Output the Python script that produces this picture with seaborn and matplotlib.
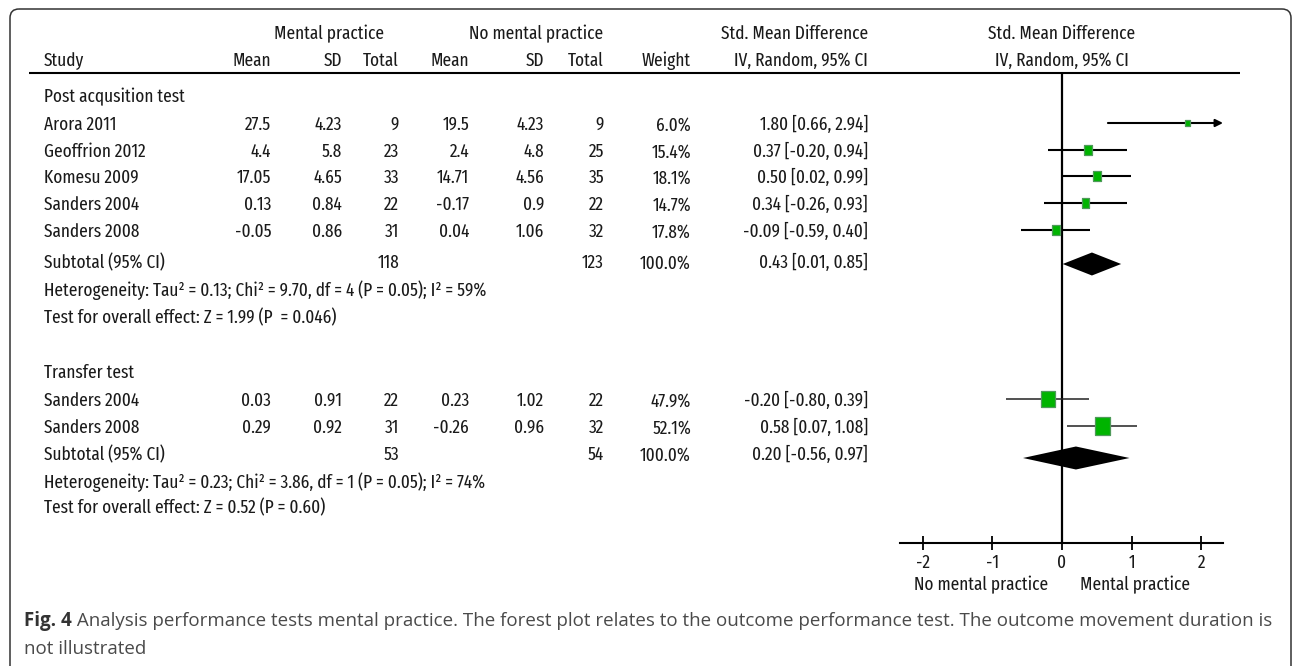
import numpy as np
import pandas as pd
import matplotlib
matplotlib.use("Agg")
import matplotlib.pyplot as plt
import seaborn as sns
from matplotlib.font_manager import FontProperties
from matplotlib.patches import FancyBboxPatch

# ---------------- data ----------------
studies_post = ["Arora 2011", "Geoffrion 2012", "Komesu 2009", "Sanders 2004", "Sanders 2008"]
mp_mean_post = [27.5, 4.4, 17.05, 0.13, -0.05]
mp_sd_post = [4.23, 5.8, 4.65, 0.84, 0.86]
mp_n_post = [9, 23, 33, 22, 31]
nmp_mean_post = [19.5, 2.4, 14.71, -0.17, 0.04]
nmp_sd_post = [4.23, 4.8, 4.56, 0.9, 1.06]
nmp_n_post = [9, 25, 35, 22, 32]
weight_post = [6.0, 15.4, 18.1, 14.7, 17.8]
smd_post = [1.80, 0.37, 0.50, 0.34, -0.09]
lo_post = [0.66, -0.20, 0.02, -0.26, -0.59]
hi_post = [2.94, 0.94, 0.99, 0.93, 0.40]
sub_post = [0.43, 0.01, 0.85]
tot_post = [118, 123]
het_post = "Heterogeneity: Tau² = 0.13; Chi² = 9.70, df = 4 (P = 0.05); I² = 59%"
eff_post = "Test for overall effect: Z = 1.99 (P  = 0.046)"

studies_tr = ["Sanders 2004", "Sanders 2008"]
mp_mean_tr = [0.03, 0.29]
mp_sd_tr = [0.91, 0.92]
mp_n_tr = [22, 31]
nmp_mean_tr = [0.23, -0.26]
nmp_sd_tr = [1.02, 0.96]
nmp_n_tr = [22, 32]
weight_tr = [47.9, 52.1]
smd_tr = [-0.20, 0.58]
lo_tr = [-0.80, 0.07]
hi_tr = [0.39, 1.08]
sub_tr = [0.20, -0.56, 0.97]
tot_tr = [53, 54]
het_tr = "Heterogeneity: Tau² = 0.23; Chi² = 3.86, df = 1 (P = 0.05); I² = 74%"
eff_tr = "Test for overall effect: Z = 0.52 (P = 0.60)"

group_titles = ["Post acqusition test", "Transfer test"]
x_ticks = [-2, -1, 0, 1, 2]
favours = ["No mental practice", "Mental practice"]
caption_bold = "Fig. 4"
caption_1 = " Analysis performance tests mental practice. The forest plot relates to the outcome performance test. The outcome movement duration is"
caption_2 = "not illustrated"

# ---------------- style / fonts ----------------
sns.set_theme(style="white")
plt.rcParams["axes.unicode_minus"] = False
TABLE_FAMILY = ["Fira Sans Extra Condensed", "Fira Sans Condensed", "Liberation Sans Narrow",
                "DejaVu Sans"]
CAP_FAMILY = ["Open Sans", "DejaVu Sans"]


def tfp(size):
    return FontProperties(family=TABLE_FAMILY, size=size, weight="normal")


W, H = 1292, 666
fig = plt.figure(figsize=(W / 100, H / 100), dpi=100)
fig.patch.set_facecolor("white")
ax = fig.add_axes([0, 0, 1, 1])
ax.set_xlim(0, W)
ax.set_ylim(H, 0)
ax.axis("off")
renderer = fig.canvas.get_renderer()


def text_width(s, fp):
    t = ax.text(0, 0, s, fontproperties=fp)
    w = t.get_window_extent(renderer).width
    t.remove()
    return w

# fit table font so that the heterogeneity line spans ~441 px
base = 12.0
fs = base * 441.0 / text_width(het_post, tfp(base))
FP = tfp(fs)
TXT = "#1a1a1a"

# ---------------- layout (pixels) ----------------
col_study = 44
col_right = {"mm": 271, "ms": 342, "mn": 399, "nm": 469, "ns": 544, "nn": 604, "w": 691, "ci": 868}
y_h1, y_h2, y_rule = 34, 61, 73
rows_post = [123, 150, 176, 203, 230]
y_title_post, y_sub_post, y_het_post, y_eff_post = 97, 263, 290, 318
rows_tr = [399, 426]
y_title_tr, y_sub_tr, y_het_tr, y_eff_tr = 373, 455, 482, 508
text_dy = 2
y_axis = 543
forest_px = (900, 1223)
zero_px, unit_px = 1062, 69.6


def put(x, y, s, ha="right", fp=None, color=TXT):
    ax.text(x, y, s, ha=ha, va="center", fontproperties=fp or FP, color=color)

# headers
put(329, y_h1, "Mental practice", ha="center")
put(536, y_h1, "No mental practice", ha="center")
put(col_right["ci"], y_h1, "Std. Mean Difference")
put(1062, y_h1, "Std. Mean Difference", ha="center")
put(col_study, y_h2, "Study", ha="left")
for k, lab in zip(["mm", "ms", "mn", "nm", "ns", "nn", "w"],
                  ["Mean", "SD", "Total", "Mean", "SD", "Total", "Weight"]):
    put(col_right[k], y_h2, lab)
put(col_right["ci"], y_h2, "IV, Random, 95% CI")
put(1062, y_h2, "IV, Random, 95% CI", ha="center")
ax.plot([29, 1240], [y_rule, y_rule], color="black", lw=1.5, solid_capstyle="butt")


def table_group(title, y_title, rows, names, mm, ms, mn, nm, ns, nn, wt, smd, lo, hi,
                sub, tot, y_sub, het, y_het, eff, y_eff):
    put(col_study, y_title, title, ha="left")
    for i, y0 in enumerate(rows):
        y = y0 + text_dy
        put(col_study, y, names[i], ha="left")
        put(col_right["mm"], y, str(mm[i]))
        put(col_right["ms"], y, str(ms[i]))
        put(col_right["mn"], y, str(mn[i]))
        put(col_right["nm"], y, str(nm[i]))
        put(col_right["ns"], y, str(ns[i]))
        put(col_right["nn"], y, str(nn[i]))
        put(col_right["w"], y, f"{wt[i]:.1f}%")
        put(col_right["ci"], y, f"{smd[i]:.2f} [{lo[i]:.2f}, {hi[i]:.2f}]")
    put(col_study, y_sub, "Subtotal (95% CI)", ha="left")
    put(col_right["mn"], y_sub, str(tot[0]))
    put(col_right["nn"], y_sub, str(tot[1]))
    put(col_right["w"], y_sub, "100.0%")
    put(col_right["ci"], y_sub, f"{sub[0]:.2f} [{sub[1]:.2f}, {sub[2]:.2f}]")
    put(col_study, y_het, het, ha="left")
    put(col_study, y_eff, eff, ha="left")


table_group(group_titles[0], y_title_post, rows_post, studies_post, mp_mean_post, mp_sd_post,
            mp_n_post, nmp_mean_post, nmp_sd_post, nmp_n_post, weight_post, smd_post,
            lo_post, hi_post, sub_post, tot_post, y_sub_post, het_post, y_het_post,
            eff_post, y_eff_post)
table_group(group_titles[1], y_title_tr, rows_tr, studies_tr, mp_mean_tr, mp_sd_tr,
            mp_n_tr, nmp_mean_tr, nmp_sd_tr, nmp_n_tr, weight_tr, smd_tr,
            lo_tr, hi_tr, sub_tr, tot_tr, y_sub_tr, het_tr, y_het_tr, eff_tr, y_eff_tr)

# ---------------- forest axes ----------------
fx = fig.add_axes([forest_px[0] / W, 0, (forest_px[1] - forest_px[0]) / W, 1])
xlo = (forest_px[0] - zero_px) / unit_px
xhi = (forest_px[1] - zero_px) / unit_px
fx.set_xlim(xlo, xhi)
fx.set_ylim(H, 0)
fx.patch.set_alpha(0)
for s in ["top", "left", "right"]:
    fx.spines[s].set_visible(False)
fx.spines["bottom"].set_position(("data", y_axis))
fx.spines["bottom"].set_color("black")
fx.spines["bottom"].set_linewidth(1.5)
fx.set_yticks([])
fx.set_xticks(x_ticks)
fx.set_xticklabels([str(t) for t in x_ticks], fontproperties=FP, color=TXT)
fx.tick_params(axis="x", direction="inout", length=10, width=1.3, color="black", pad=2.5,
               bottom=True)
fx.grid(False)

# zero line
fx.vlines(0, y_rule, y_axis, color="black", lw=1.6)

# confidence intervals
for i, y in enumerate(rows_post):
    if hi_post[i] > xhi:
        fx.annotate("", xy=(xhi, y), xytext=(lo_post[i], y),
                    arrowprops=dict(arrowstyle="-|>", lw=1.5, color="black",
                                    mutation_scale=11, shrinkA=0, shrinkB=0))
    else:
        fx.hlines(y, lo_post[i], hi_post[i], color="black", lw=1.5)
for i, y in enumerate(rows_tr):
    fx.hlines(y, lo_tr[i], hi_tr[i], color="#222222", lw=1.1)

# weighted squares (slightly tall rectangles)
sq = pd.DataFrame({
    "smd": smd_post + smd_tr,
    "y": rows_post + rows_tr,
    "w": weight_post + weight_tr,
})
sq["s"] = (24 * np.sqrt(sq["w"] / 100.0) * 0.72) ** 2
rect = [(-1, -1.2), (1, -1.2), (1, 1.2), (-1, 1.2), (-1, -1.2)]
sns.scatterplot(data=sq, x="smd", y="y", ax=fx, marker=rect, s=sq["s"].values,
                color="#00b400", edgecolor="#4f9a5a", linewidth=0.9, legend=False,
                zorder=5)
fx.set_xlabel("")
fx.set_ylabel("")
fx.set_ylim(H, 0)
fx.set_xlim(xlo, xhi)

# diamonds
for est, lo, hi, y in [(sub_post[0], sub_post[1], sub_post[2], y_sub_post + 1),
                       (sub_tr[0], sub_tr[1], sub_tr[2], y_sub_tr + 3)]:
    fx.fill([lo, est, hi, est], [y, y - 11.5, y, y + 11.5], color="black", zorder=6,
            lw=0)

# favours labels
put(981, 585, favours[0], ha="center")
put(1135, 585, favours[1], ha="center")

# ---------------- frame and caption ----------------
ax.add_patch(FancyBboxPatch((10, 9), 1281, 700, boxstyle="round,pad=0,rounding_size=9",
                            ec="#333333", fc="none", lw=1.1))

cap_base = 12.0
bold_fp = FontProperties(family=CAP_FAMILY, weight="bold", size=cap_base)
reg_fp = FontProperties(family=CAP_FAMILY, size=cap_base)
full_w = text_width(caption_bold, bold_fp) + text_width(caption_1, reg_fp)
cs = cap_base * (1263 - 24) / full_w
bold_fp.set_size(cs)
reg_fp.set_size(cs)
x0 = 24
tb = ax.text(x0, 621, caption_bold, ha="left", va="center", fontproperties=bold_fp,
             color="#333333")
bw = tb.get_window_extent(renderer).width
ax.text(x0 + bw, 621, caption_1, ha="left", va="center", fontproperties=reg_fp,
        color="#4a4a4a")
ax.text(x0, 649, caption_2, ha="left", va="center", fontproperties=reg_fp, color="#4a4a4a")

fig.savefig("out.png", dpi=100, facecolor="white")
